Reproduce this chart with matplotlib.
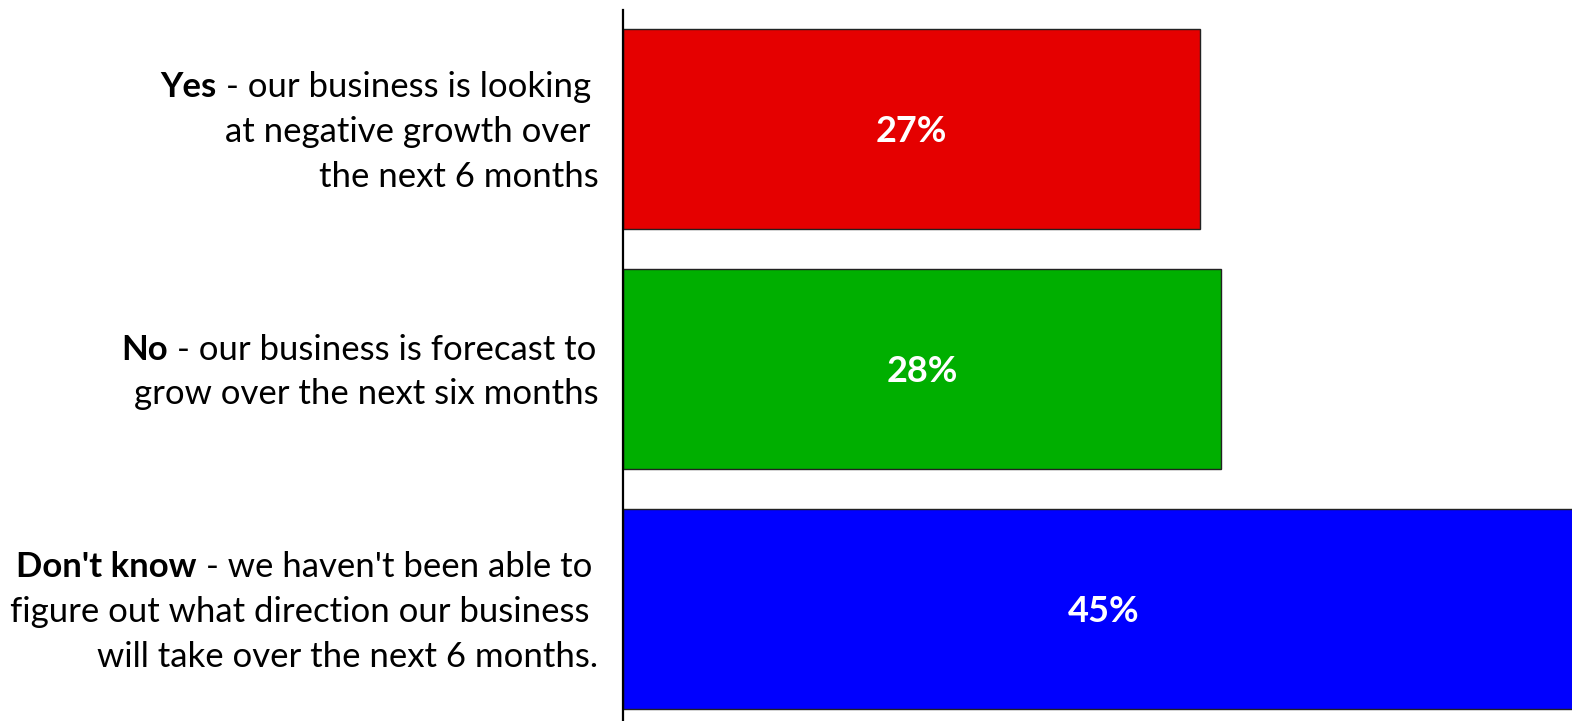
import matplotlib
matplotlib.use("Agg")
import matplotlib.pyplot as plt
from matplotlib.transforms import offset_copy

# Survey responses (percent of respondents)
bold_parts = ["Yes", "No", "Don't know"]
label_lines = [
    ["- our business is looking", "at negative growth over", "the next 6 months"],
    ["- our business is forecast to", "grow over the next six months"],
    ["- we haven't been able to", "figure out what direction our business",
     "will take over the next 6 months."],
]
values = [27, 28, 45]
value_labels = ["27%", "28%", "45%"]
bar_colors = ["#E50000", "#00AF00", "#0000FF"]

W, H = 1572, 721
fig = plt.figure(figsize=(W / 100, H / 100), dpi=100)
fig.patch.set_facecolor("white")

FONT = "Lato"
FS = 25
FS_VAL = 26
TEXT_DROP = 3  # px, nudges text slightly below the geometric centre

# axes: left spine at x=623 px, from y=10 px down to the bottom edge
ax = fig.add_axes([623 / W, 0, 1 - 623 / W, (H - 10) / H])
ax.set_xlim(0, 44.4)
pitch = 240.0
top_px, bot_px, c0 = 10, 721, 129
ax.set_ylim((bot_px - c0) / pitch, (top_px - c0) / pitch)

ypos = list(range(len(values)))
ax.barh(ypos, values, height=200 / pitch, color=bar_colors,
        edgecolor="#222222", linewidth=1.0, zorder=2)

val_tr = offset_copy(ax.transData, fig=fig, x=0, y=-TEXT_DROP, units="dots")
for y, v, lab in zip(ypos, values, value_labels):
    ax.text(v / 2, y, lab, ha="center", va="center", color="white",
            fontsize=FS_VAL, fontweight="bold", family=FONT, zorder=3,
            transform=val_tr)

for side in ["top", "right", "bottom"]:
    ax.spines[side].set_visible(False)
ax.spines["left"].set_linewidth(1.6)
ax.spines["left"].set_color("black")
ax.set_xticks([])
ax.set_yticks([])
ax.patch.set_alpha(0)

# category labels, right aligned left of the axis, centred on each bar
right_edges = [[591, 590, 599], [596, 599], [592, 590, 598]]
line_gap = 45
renderer = fig.canvas.get_renderer()
probe1 = fig.text(0, 0, "aa", fontsize=FS, family=FONT)
probe2 = fig.text(0, 0, "a a", fontsize=FS, family=FONT)
space_w = (probe2.get_window_extent(renderer).width
           - probe1.get_window_extent(renderer).width)
probe1.remove()
probe2.remove()

for i, (bold, lines) in enumerate(zip(bold_parts, label_lines)):
    center = c0 + i * pitch + TEXT_DROP
    n = len(lines)
    for j, line in enumerate(lines):
        ypx = center + (j - (n - 1) / 2) * line_gap
        xr = right_edges[i][j]
        t = fig.text(xr / W, 1 - ypx / H, line, ha="right", va="center",
                     fontsize=FS, family=FONT, color="black")
        if j == 0:
            x0 = t.get_window_extent(renderer).x0
            fig.text((x0 - space_w) / W, 1 - ypx / H, bold, ha="right",
                     va="center", fontsize=FS, fontweight="bold",
                     family=FONT, color="black")

fig.savefig("out.png", dpi=100, facecolor="white")
